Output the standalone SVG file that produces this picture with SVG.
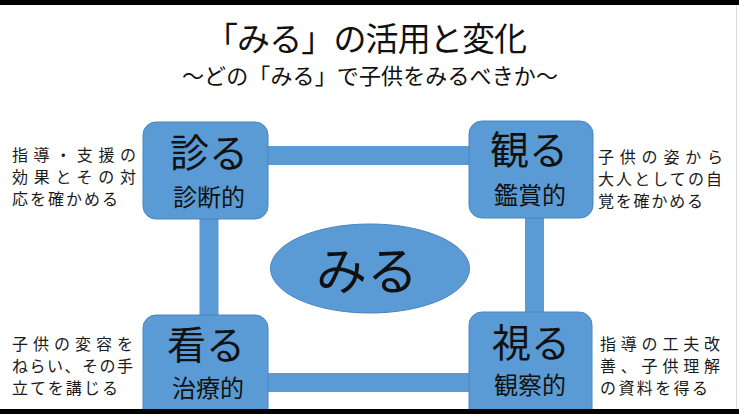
<svg xmlns="http://www.w3.org/2000/svg" width="739" height="414" viewBox="0 0 739 414">
<style>
.jp{font-family:"Noto Sans CJK JP","Noto Sans",sans-serif;fill:#111;}
.box{fill:#5B9BD5;stroke:#4A84BC;stroke-width:1;}
.conn{stroke:#5B9BD5;stroke-width:19;fill:none;}
.big{font-size:39px;text-anchor:middle;}
.sub{font-size:24px;text-anchor:middle;}
.note{font-size:16px;fill:#1a1a1a;}
</style>
<rect x="0" y="0" width="739" height="414" fill="#fff"/>
<g id="title">
<text class="jp" x="366" y="51" font-size="33" text-anchor="middle" textLength="322">「みる」の活用と変化</text>
<text class="jp" x="370" y="84" font-size="22" text-anchor="middle" textLength="376">～どの「みる」で子供をみるべきか～</text>
</g>
<g id="connectors">
<line class="conn" x1="268" y1="155.5" x2="469" y2="155.5"/>
<line class="conn" x1="209" y1="219" x2="209" y2="316"/>
<line class="conn" x1="534.5" y1="217" x2="534.5" y2="313"/>
<line class="conn" x1="268" y1="382.5" x2="469" y2="382.5"/>
</g>
<g id="center">
<ellipse class="box" cx="370" cy="268.5" rx="99.5" ry="44.5"/>
<text class="jp" x="367" y="290" font-size="51" text-anchor="middle">みる</text>
</g>
<g id="node-shinru">
<rect class="box" x="143" y="122" width="125" height="97" rx="13"/>
<text class="jp big" x="209" y="167">診る</text>
<text class="jp sub" x="209" y="206">診断的</text>
</g>
<g id="node-miru-kan">
<rect class="box" x="469" y="121" width="124" height="97" rx="13"/>
<text class="jp big" x="529" y="164">観る</text>
<text class="jp sub" x="530" y="204">鑑賞的</text>
</g>
<g id="node-kan">
<rect class="box" x="143" y="315" width="125" height="110" rx="13"/>
<text class="jp big" x="206" y="359">看る</text>
<text class="jp sub" x="208" y="397">治療的</text>
</g>
<g id="node-shi">
<rect class="box" x="469" y="312" width="123" height="110" rx="13"/>
<text class="jp big" x="531" y="357">視る</text>
<text class="jp sub" x="530" y="394">観察的</text>
</g>
<g id="note-tl">
<text class="jp note" x="12" y="161" textLength="124">指導・支援の</text>
<text class="jp note" x="12" y="183" textLength="124">効果とその対</text>
<text class="jp note" x="12" y="205" textLength="106">応を確かめる</text>
</g>
<g id="note-tr">
<text class="jp note" x="598" y="163" textLength="125">子供の姿から</text>
<text class="jp note" x="598" y="185" textLength="124">大人としての自</text>
<text class="jp note" x="598" y="207" textLength="105">覚を確かめる</text>
</g>
<g id="note-bl">
<text class="jp note" x="12" y="350" textLength="121">子供の変容を</text>
<text class="jp note" x="12" y="372" textLength="121">ねらい、その手</text>
<text class="jp note" x="12" y="394" textLength="106">立てを講じる</text>
</g>
<g id="note-br">
<text class="jp note" x="600" y="350" textLength="120">指導の工夫改</text>
<text class="jp note" x="600" y="372" textLength="120">善、子供理解</text>
<text class="jp note" x="600" y="394" textLength="108">の資料を得る</text>
</g>
<g id="frame">
<rect x="0" y="0" width="739" height="5" fill="#000"/>
<rect x="0" y="409" width="739" height="5" fill="#000"/>
<rect x="736" y="5" width="1" height="404" fill="#ddd"/>
</g>
</svg>
